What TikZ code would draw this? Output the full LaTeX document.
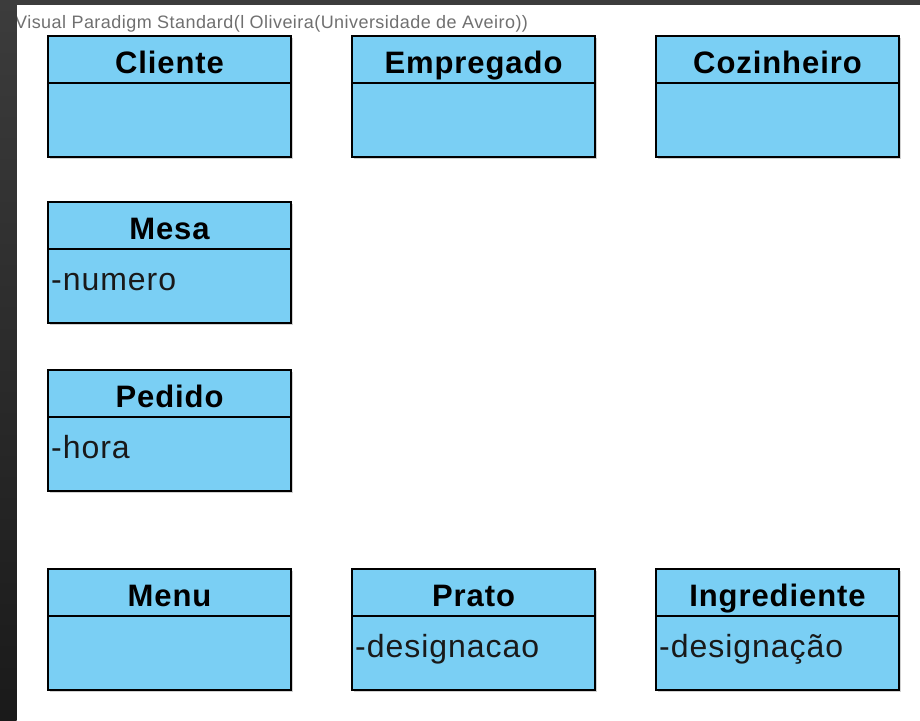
\documentclass[tikz,border=0pt]{standalone}
\usepackage{fontspec}
\setmainfont{Liberation Sans}
\newfontfamily\titlefont[LetterSpace=3]{Liberation Sans}
\newfontfamily\attrfont[LetterSpace=3]{Liberation Sans}
\newfontfamily\bannerfont[LetterSpace=2.5]{Liberation Sans}
\usetikzlibrary{shadows}
\definecolor{umlfill}{RGB}{122,207,244}
\definecolor{darkband}{RGB}{60,60,60}
\definecolor{darkbandlow}{RGB}{26,26,26}
\definecolor{vpgray}{RGB}{112,112,112}
\tikzset{
  classbox/.style={draw=black, line width=2pt, fill=umlfill, minimum width=243pt, minimum height=121pt, inner sep=0pt, outer sep=0pt,
    drop shadow={shadow xshift=1.5pt, shadow yshift=-1.5pt, fill=black, opacity=0.18}},
  divider/.style={draw=black, line width=2pt},
  classtitle/.style={inner sep=0pt, font=\titlefont\fontsize{31}{36}\selectfont\bfseries, text=black},
  classattr/.style={inner sep=0pt, font=\attrfont\fontsize{32}{38}\selectfont, text=black!90},
  banner/.style={inner sep=0pt, font=\bannerfont\fontsize{18}{20}\selectfont, text=vpgray}
}
\newcommand\umlclass[4]{%
  \node[classbox, anchor=north west] (#1) at (#2) {};
  \draw[divider] ([yshift=-47pt]#1.north west) -- ([yshift=-47pt]#1.north east);
  \node[classtitle, anchor=base] (#1T) at ([yshift=-37pt]#1.north) {#3};
  \ifx\relax#4\relax\else
  \node[classattr, anchor=base west] (#1A) at ([xshift=3pt,yshift=-88pt]#1.north west) {#4};
  \fi
}
\begin{document}
\begin{tikzpicture}[x=1pt, y=-1pt]
\useasboundingbox (0,0) rectangle (920,720);
\fill[white] (0,0) rectangle (920,720);
\node[banner, anchor=base west] (banner) at (15,28) {Visual Paradigm Standard(l Oliveira(Universidade de Aveiro))};
\fill[darkband] (0,0) rectangle (920,5);
\shade[top color=darkband, bottom color=darkbandlow] (0,0) rectangle (16.5,720);

\umlclass{cliente}{48,36}{Cliente}{}
\umlclass{empregado}{352,36}{Empregado}{}
\umlclass{cozinheiro}{656,36}{Cozinheiro}{}
\umlclass{mesa}{48,202}{Mesa}{-numero}
\umlclass{pedido}{48,370}{Pedido}{-hora}
\umlclass{menu}{48,569}{Menu}{}
\umlclass{prato}{352,569}{Prato}{-designacao}
\umlclass{ingrediente}{656,569}{Ingrediente}{-designação}
\end{tikzpicture}
\end{document}
